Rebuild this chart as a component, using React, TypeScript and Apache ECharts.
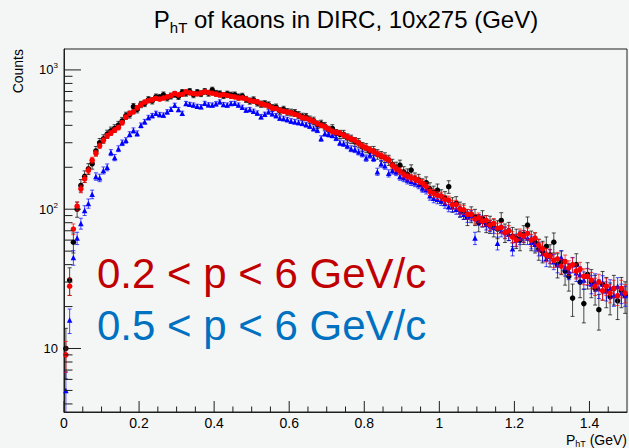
import React, { useEffect, useRef } from "react";
import * as echarts from "echarts";

// ---------- axis ranges ----------
const X_MIN = 0;
const X_MAX = 1.5;
const BIN_WIDTH = 0.01;
const Y_MIN = 3.5;
const Y_MAX = 1413;

// ---------- tick labels ----------
const xTickValues = [0, 0.2, 0.4, 0.6, 0.8, 1.0, 1.2, 1.4];
const xTickLabels = ["0", "0.2", "0.4", "0.6", "0.8", "1", "1.2", "1.4"];
const xMinorTickValues = [0.05, 0.1, 0.15, 0.25, 0.3, 0.35, 0.45, 0.5, 0.55, 0.65, 0.7, 0.75, 0.85, 0.9, 0.95, 1.05, 1.1, 1.15, 1.25, 1.3, 1.35, 1.45];
const yTickValues = [10, 100, 1000];
const yTickExponents = ["", "2", "3"];
const yMinorTickValues = [4, 5, 6, 7, 8, 9, 20, 30, 40, 50, 60, 70, 80, 90, 200, 300, 400, 500, 600, 700, 800, 900];

// ---------- texts ----------
const TITLE_MAIN = "P";
const TITLE_SUB = "hT";
const TITLE_REST = " of kaons in DIRC, 10x275 (GeV)";
const Y_TITLE = "Counts";
const X_TITLE_MAIN = "P";
const X_TITLE_SUB = "hT";
const X_TITLE_REST = " (GeV)";
const LEGEND_RED = "0.2 < p < 6 GeV/c";
const LEGEND_BLUE = "0.5 < p < 6 GeV/c";

// ---------- histogram contents (150 bins of 0.01 GeV) ----------
const blackCounts = [
  10, 31, 58, 100, 148, 172, 195, 212, 262, 300,
  320, 346, 365, 380, 402, 430, 470, 478, 545, 520,
  565, 575, 612, 600, 640, 635, 662, 630, 650, 668,
  645, 690, 680, 702, 664, 690, 676, 702, 680, 718,
  680, 675, 655, 672, 660, 662, 640, 648, 615, 598,
  610, 580, 568, 572, 560, 535, 540, 508, 520, 500,
  495, 492, 475, 462, 460, 440, 432, 405, 410, 395,
  370, 380, 350, 345, 345, 325, 318, 305, 300, 280,
  275, 260, 262, 248, 240, 235, 225, 210, 200, 207,
  185, 178, 191, 166, 162, 150, 155, 140, 132, 137,
  124, 120, 145, 108, 110, 100, 97, 88, 92, 88,
  80, 86, 79, 78, 74, 72, 83, 68, 70, 64,
  62, 60, 66, 77, 60, 58, 52, 50, 54, 47,
  58, 40, 42, 36, 33, 23, 40, 30, 21, 34,
  30, 27, 19, 29, 26, 23.5, 27, 22, 26, 24,
];

const redCounts = [
  9, 28, 72, 105, 140, 165, 190, 225, 252, 285,
  312, 336, 352, 370, 386, 418, 458, 488, 500, 535,
  562, 588, 602, 610, 625, 618, 628, 640, 655, 678,
  662, 668, 698, 684, 676, 672, 682, 698, 688, 680,
  670, 660, 664, 656, 646, 640, 628, 630, 620, 604,
  596, 590, 570, 562, 552, 532, 528, 515, 505, 498,
  492, 480, 470, 455, 450, 438, 428, 412, 400, 390,
  376, 362, 356, 352, 340, 330, 320, 312, 298, 285,
  276, 268, 260, 250, 242, 234, 226, 206, 196, 188,
  178, 172, 168, 165, 160, 154, 146, 134, 130, 126,
  124, 117, 116, 108, 108, 100, 99, 92, 92, 85,
  87, 82, 83, 77, 79, 73, 74, 68, 70, 63,
  60, 66, 64, 67, 60, 62, 55, 52, 47, 46,
  43, 44, 39, 42, 38, 40, 36, 37, 33, 33,
  31, 28, 30, 26, 28, 25, 27, 24, 27, 25,
];

const blueCounts = [
  5, 16, 45, 62, 79, 98, 110, 128, 172, 168,
  190, 200, 255, 235, 272, 300, 312, 345, 368, 350,
  400, 425, 455, 470, 488, 478, 474, 500, 522, 558,
  520, 488, 575, 566, 560, 548, 545, 576, 562, 560,
  572, 590, 565, 560, 575, 576, 560, 540, 515, 520,
  505, 490, 462, 480, 500, 485, 470, 452, 448, 440,
  430, 425, 420, 414, 405, 395, 380, 370, 322, 350,
  345, 340, 325, 300, 296, 285, 272, 268, 258, 250,
  233, 245, 232, 186, 212, 205, 181, 190, 185, 172,
  168, 162, 158, 155, 150, 142, 138, 125, 120, 118,
  115, 110, 104, 104, 100, 96, 92, 88, 90, 62,
  84, 82, 78, 76, 74, 57, 70, 68, 66, 52,
  60, 62, 64, 62, 58, 56, 52, 48, 44, 46,
  42, 40, 45, 38, 36, 40, 35, 34, 31, 33,
  29, 30, 27, 29, 26, 27, 24, 28, 25, 24,
];

// relative error scale (error = scale * sqrt(N)), per histogram
const BLACK_ERR_SCALE = 1.25;
const RED_ERR_SCALE = 0.75;
const BLUE_ERR_SCALE = 0.8;

// ---------- styles ----------
const FONT = "'Liberation Sans', Arial, Helvetica, sans-serif";
const BG = "#f4f6f6";
const AXIS_COLOR = "#1e1e1e";
const C_BLACK = "#000000";
const C_RED = "#ff0000";
const C_BLUE = "#0000ff";
const C_LEG_RED = "#c00000";
const C_LEG_BLUE = "#0070c0";

const binCenters = blackCounts.map((_, i) => +(X_MIN + BIN_WIDTH * (i + 0.5)).toFixed(4));

function errData(counts: number[], k: number) {
  return counts.map((v, i) => {
    const e = k * Math.sqrt(v);
    const lo = v - e;
    return [binCenters[i], Math.max(lo, Y_MIN), Math.min(v + e, Y_MAX), lo < Y_MIN ? 1 : 0];
  });
}

function errSeries(name: string, counts: number[], k: number, color: string, z: number) {
  return {
    type: "custom",
    name,
    coordinateSystem: "cartesian2d",
    silent: true,
    z,
    data: errData(counts, k),
    encode: { x: 0, y: [1, 2] },
    renderItem: (_p: any, api: any) => {
      const x = api.value(0);
      const a = api.coord([x, api.value(1)]);
      const b = api.coord([x, api.value(2)]);
      const cut = api.value(3);
      const st = { stroke: color, lineWidth: 1, opacity: 0.7 };
      const children: any[] = [
        { type: "line", shape: { x1: a[0], y1: a[1], x2: b[0], y2: b[1] }, style: st },
        { type: "line", shape: { x1: b[0] - 2, y1: b[1], x2: b[0] + 2, y2: b[1] }, style: st },
      ];
      if (!cut) children.push({ type: "line", shape: { x1: a[0] - 2, y1: a[1], x2: a[0] + 2, y2: a[1] }, style: st });
      return { type: "group", children };
    },
  };
}

function markerSeries(name: string, counts: number[], color: string, symbol: string, size: number, z: number) {
  return {
    type: "scatter",
    name,
    symbol,
    symbolSize: size,
    z,
    silent: true,
    itemStyle: { color, opacity: 1 },
    data: counts.map((v, i) => [binCenters[i], v]),
  };
}

function tickSeries() {
  const data: any[] = [];
  yTickValues.forEach((v) => data.push([X_MIN, v, 0, 17]));
  yMinorTickValues.forEach((v) => data.push([X_MIN, v, 0, 8.5]));
  xTickValues.forEach((v) => data.push([v, Y_MIN, 1, 11]));
  xMinorTickValues.forEach((v) => data.push([v, Y_MIN, 1, 5.5]));
  return {
    type: "custom",
    coordinateSystem: "cartesian2d",
    silent: true,
    z: 10,
    data,
    encode: { x: 0, y: 1 },
    renderItem: (_p: any, api: any) => {
      const p = api.coord([api.value(0), api.value(1)]);
      const isX = api.value(2) === 1;
      const len = api.value(3);
      const shape = isX
        ? { x1: p[0], y1: p[1], x2: p[0], y2: p[1] - len }
        : { x1: p[0], y1: p[1], x2: p[0] + len, y2: p[1] };
      return { type: "line", shape, style: { stroke: AXIS_COLOR, lineWidth: 1 } };
    },
  };
}

function buildOption() {
  return {
    animation: false,
    backgroundColor: BG,
    grid: { left: 64, right: 2, top: 49, bottom: 36, show: true, borderColor: AXIS_COLOR, borderWidth: 1, backgroundColor: "transparent" },
    xAxis: {
      type: "value",
      min: X_MIN,
      max: X_MAX,
      interval: 0.2,
      axisLine: { show: true, lineStyle: { color: AXIS_COLOR, width: 1 } },
      axisTick: { show: false },
      splitLine: { show: false },
      axisLabel: {
        show: true,
        color: "#000",
        fontFamily: FONT,
        fontSize: 14,
        margin: 4,
        showMaxLabel: false,
        formatter: (v: number) => {
          const i = xTickValues.findIndex((t) => Math.abs(t - v) < 1e-6);
          return i >= 0 ? xTickLabels[i] : "";
        },
      },
    },
    yAxis: {
      type: "log",
      logBase: 10,
      min: Y_MIN,
      max: Y_MAX,
      axisLine: { show: true, lineStyle: { color: AXIS_COLOR, width: 1 } },
      axisTick: { show: false },
      minorTick: { show: false },
      splitLine: { show: false },
      axisLabel: {
        show: true,
        margin: 6,
        showMinLabel: false,
        showMaxLabel: false,
        formatter: (v: number) => {
          const i = yTickValues.findIndex((t) => Math.abs(t - v) / t < 1e-6);
          if (i < 0) return "";
          return yTickExponents[i] ? `{b|10}{s|${yTickExponents[i]}}` : "{b|10}";
        },
        rich: {
          b: { fontFamily: FONT, fontSize: 13, color: "#000", lineHeight: 16, verticalAlign: "middle" },
          s: { fontFamily: FONT, fontSize: 8, color: "#000", lineHeight: 16, verticalAlign: "top" },
        },
      },
    },
    graphic: [
      {
        type: "text",
        x: 346,
        y: 19,
        silent: true,
        style: {
          text: `{a|${TITLE_MAIN}}{s|${TITLE_SUB}}{a|${TITLE_REST}}`,
          align: "center",
          verticalAlign: "middle",
          rich: {
            a: { fontFamily: FONT, fontSize: 24, fill: "#000", lineHeight: 32, verticalAlign: "middle" },
            s: { fontFamily: FONT, fontSize: 15, fill: "#000", lineHeight: 32, verticalAlign: "bottom" },
          },
        },
      },
      {
        type: "text",
        x: 18,
        y: 49,
        rotation: Math.PI / 2,
        silent: true,
        style: { text: Y_TITLE, fontFamily: FONT, fontSize: 14, fill: "#000", align: "right", verticalAlign: "middle" },
      },
      {
        type: "text",
        x: 627,
        y: 440,
        silent: true,
        style: {
          text: `{a|${X_TITLE_MAIN}}{s|${X_TITLE_SUB}}{a|${X_TITLE_REST}}`,
          align: "right",
          verticalAlign: "middle",
          rich: {
            a: { fontFamily: FONT, fontSize: 14, fill: "#000", lineHeight: 16, verticalAlign: "middle" },
            s: { fontFamily: FONT, fontSize: 9, fill: "#000", lineHeight: 16, verticalAlign: "bottom" },
          },
        },
      },
      {
        type: "text",
        x: 97,
        y: 273,
        silent: true,
        style: { text: LEGEND_RED, fontFamily: FONT, fontSize: 42, fill: C_LEG_RED, align: "left", verticalAlign: "middle" },
      },
      {
        type: "text",
        x: 97,
        y: 325,
        silent: true,
        style: { text: LEGEND_BLUE, fontFamily: FONT, fontSize: 42, fill: C_LEG_BLUE, align: "left", verticalAlign: "middle" },
      },
    ],
    series: [
      tickSeries(),
      errSeries("black-err", blackCounts, BLACK_ERR_SCALE, C_BLACK, 2),
      markerSeries("black", blackCounts, C_BLACK, "circle", 5.5, 3),
      errSeries("blue-err", blueCounts, BLUE_ERR_SCALE, C_BLUE, 4),
      markerSeries("blue", blueCounts, C_BLUE, "triangle", 5.5, 5),
      errSeries("red-err", redCounts, RED_ERR_SCALE, C_RED, 6),
      markerSeries("red", redCounts, C_RED, "circle", 5.5, 7),
    ],
  };
}

export default function App() {
  const ref = useRef<HTMLDivElement>(null);
  useEffect(() => {
    if (!ref.current) return;
    const chart = echarts.init(ref.current, null, { renderer: "svg" });
    chart.setOption(buildOption() as any);
    return () => chart.dispose();
  }, []);
  return (
    <div
      ref={ref}
      style={{ position: "fixed", left: 0, top: 0, width: 629, height: 448, background: BG }}
    />
  );
}
